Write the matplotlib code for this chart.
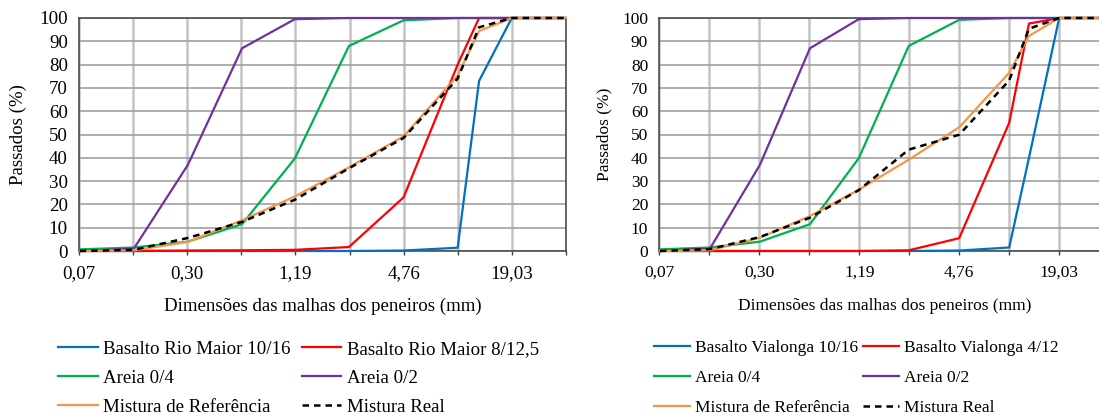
import matplotlib
matplotlib.use("Agg")
import matplotlib.pyplot as plt

plt.rcParams['font.family'] = ['Liberation Serif', 'DejaVu Serif']
plt.rcParams['font.size'] = 13.6

# sieve sizes (mm)
sieves = [0.075, 0.15, 0.3, 0.6, 1.18, 2.36, 4.75, 9.5, 12.5, 19, 38]

# tick positions / labels of the log axis (factor 2 per gridline)
tick_base = 19.03 / 256
tick_vals = [tick_base * 2 ** k for k in range(10)]
tick_labels = ['0,07', '', '0,30', '', '1,19', '', '4,76', '', '19,03', '']
y_ticks = list(range(0, 101, 10))

# left chart - Rio Maior
rm_basalto_10_16 = [0, 0, 0, 0, 0, 0, 0.2, 1.4, 73, 100, 100]
rm_basalto_8_12 = [0, 0, 0.2, 0.3, 0.5, 1.7, 23, 80, 100, 100, 100]
rm_areia_04 = [0.7, 1.5, 4, 11.5, 39.7, 88, 99, 100, 100, 100, 100]
rm_areia_02 = [0, 1, 37, 87, 99.5, 100, 100, 100, 100, 100, 100]
rm_ref = [0, 0.3, 3.9, 13.2, 23.4, 35.9, 49.2, 75.3, 94.4, 100, 100]
rm_real = [0, 0.5, 5.6, 12.5, 22, 35.5, 48.5, 74, 96, 100, 100]

# right chart - Vialonga
vl_basalto_10_16 = [0, 0, 0, 0, 0, 0, 0.2, 1.5, 40, 100, 100]
vl_basalto_4_12 = [0, 0, 0, 0, 0, 0.3, 5.5, 55, 97.6, 100, 100]
vl_areia_04 = [0.7, 1.5, 4, 11.5, 39.8, 88, 99.2, 100, 100, 100, 100]
vl_areia_02 = [0, 1, 37, 87, 99.5, 100, 100, 100, 100, 100, 100]
vl_ref = [0, 0.3, 5.7, 15, 26.3, 39.2, 53.1, 76.5, 92.3, 100, 100]
vl_real = [0, 0.8, 6, 14.3, 26.1, 43.5, 49.9, 73.2, 95.4, 100, 100]

left_labels = ['Basalto Rio Maior 10/16', 'Basalto Rio Maior 8/12,5', 'Areia 0/4',
               'Areia 0/2', 'Mistura de Referência', 'Mistura Real']
right_labels = ['Basalto Vialonga 10/16', 'Basalto Vialonga 4/12', 'Areia 0/4',
                'Areia 0/2', 'Mistura de Referência', 'Mistura Real']

colors = ['#0070C0', '#FF0000', '#00B050', '#7030A0', '#F79646', 'black']

fig = plt.figure(figsize=(10.99, 4.17), dpi=100)
W, H = 1099.0, 417.0
ax1 = fig.add_axes([79 / W, 1 - 251 / H, 487 / W, 233 / H])
ax2 = fig.add_axes([659.3 / W, 1 - 251 / H, 450 / W, 233 / H])


def draw(ax, series, labels, fs):
    handles = []
    for i, (vals, lab) in enumerate(zip(series, labels)):
        if i == 5:
            h, = ax.plot(sieves, vals, color=colors[i], lw=1.8, dashes=(2.6, 2.0),
                         label=lab, clip_on=False, zorder=5)
        else:
            h, = ax.plot(sieves, vals, color=colors[i], lw=1.6, label=lab,
                         clip_on=False, zorder=3 + i * 0.1)
        handles.append(h)
    ax.set_xscale('log', base=2)
    ax.set_xlim(tick_base, tick_base * 512)
    ax.set_ylim(0, 100)
    ax.set_xticks(tick_vals)
    ax.set_xticklabels(tick_labels)
    ax.xaxis.set_minor_locator(matplotlib.ticker.NullLocator())
    ax.set_yticks(y_ticks)
    ax.grid(axis='x', color='#c4c4c4', lw=1.8, zorder=0)
    ax.grid(axis='y', color='#a0a0a0', lw=1.2, zorder=0)
    ax.set_axisbelow(True)
    ax.tick_params(axis='x', direction='out', length=3, width=1, color='#404040', pad=7,
                   labelsize=fs)
    ax.tick_params(axis='y', length=0, pad=8, labelsize=fs)
    for s in ax.spines.values():
        s.set_color('#404040')
        s.set_linewidth(1.1)
    ax.set_ylabel('Passados (%)', fontsize=fs)
    ax.set_xlabel('Dimensões das malhas dos peneiros (mm)', fontsize=fs)
    ax.xaxis.set_label_coords(0.5, -0.2)
    return handles


h1 = draw(ax1, [rm_basalto_10_16, rm_basalto_8_12, rm_areia_04, rm_areia_02, rm_ref, rm_real],
          left_labels, 13.6)
h2 = draw(ax2, [vl_basalto_10_16, vl_basalto_4_12, vl_areia_04, vl_areia_02, vl_ref, vl_real],
          right_labels, 12.5)
ax1.yaxis.set_label_coords(-0.107, 0.5)
ax2.yaxis.set_label_coords(-0.105, 0.5)

# legend fills columns first, so reorder to read row by row
order = [0, 2, 4, 1, 3, 5]
fig.legend([h1[i] for i in order], [left_labels[i] for i in order], ncol=2, loc='center left',
           bbox_to_anchor=(58 / W, 1 - 378 / H), fontsize=13.6,
           frameon=False, borderpad=0, borderaxespad=0, handlelength=2.1, handletextpad=0.28,
           columnspacing=0.6, labelspacing=0.62)
fig.legend([h2[i] for i in order], [right_labels[i] for i in order], ncol=2, loc='center left',
           bbox_to_anchor=(653.5 / W, 1 - 378 / H), fontsize=12.5,
           frameon=False, borderpad=0, borderaxespad=0, handlelength=2.1, handletextpad=0.27,
           columnspacing=0.3, labelspacing=0.78)

fig.savefig('out.png', dpi=100)
